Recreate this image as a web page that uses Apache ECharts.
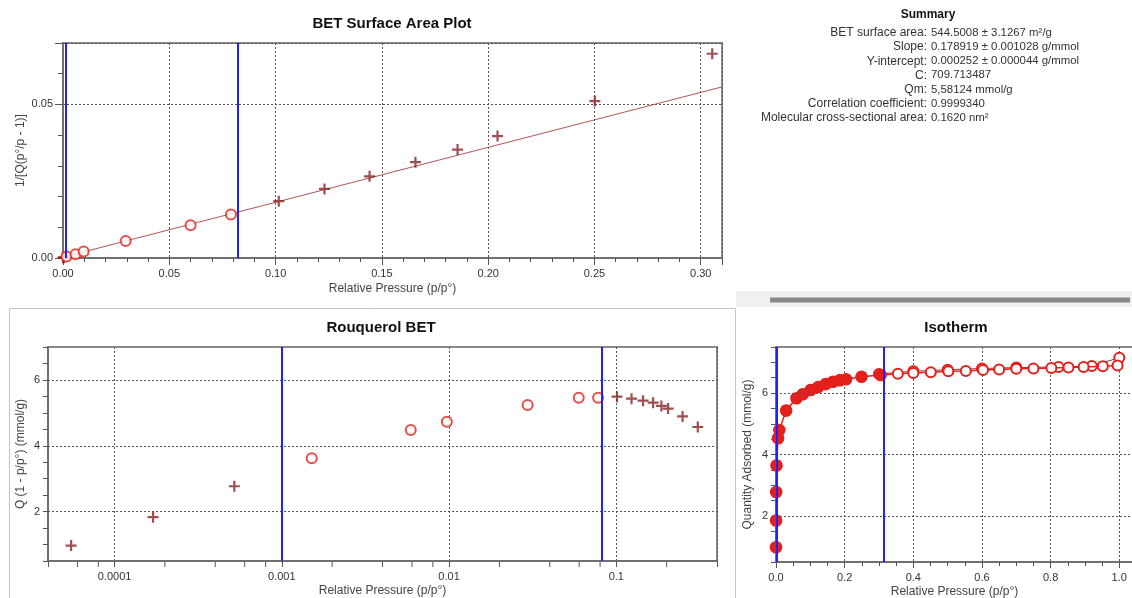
<!DOCTYPE html>
<html><head><meta charset="utf-8">
<script src="https://cdn.jsdelivr.net/npm/echarts@6/dist/echarts.min.js"></script>
<style>html,body{margin:0;padding:0;background:#fff}#c{width:1132px;height:598px}</style>
</head><body><div id="c"></div>
<script>
// ---------- BET surface area plot (1/[Q(p°/p-1)] vs p/p°) ----------
const betCircleX = [0.0016, 0.0059, 0.0097, 0.0295, 0.0600, 0.0790];
const betCircleY = [0.0005, 0.0012, 0.0021, 0.0055, 0.0107, 0.0142];
const betCrossX = [0.00006, 0.00017, 0.00052, 0.1015, 0.1230, 0.1442, 0.1658, 0.1856, 0.2044, 0.2502, 0.3054];
const betCrossY = [0.00006, 0.0001, 0.0002, 0.0185, 0.0225, 0.0266, 0.0312, 0.0353, 0.0397, 0.0511, 0.0665];
const betFitX = [0, 0.31];
const betFitY = [0.00025, 0.0557];
const betLimits = [0.0012, 0.0821];

// ---------- Rouquerol BET ----------
const rqCircleX = [0.00151, 0.0059, 0.0097, 0.0295, 0.0596, 0.0778];
const rqCircleY = [3.62, 4.48, 4.73, 5.24, 5.455, 5.46];
const rqCrossX = [0.000055, 0.00017, 0.00052, 0.101, 0.1233, 0.1445, 0.166, 0.186, 0.204, 0.249, 0.307];
const rqCrossY = [0.97, 1.83, 2.77, 5.49, 5.43, 5.37, 5.31, 5.21, 5.13, 4.89, 4.57];
const rqLimits = [0.0010001, 0.0818];
const rqMinorTicks = [0.00006, 0.00008, 0.0002, 0.0004, 0.0006, 0.0008, 0.002, 0.004, 0.006, 0.008, 0.02, 0.04, 0.06, 0.08, 0.2];
const rqGridY = [2, 4, 6];

// ---------- Isotherm ----------
const isoAdsP = [0.00006, 0.00017, 0.00052, 0.0015, 0.0059, 0.0097, 0.0295, 0.0596, 0.078, 0.101, 0.123, 0.1445, 0.166, 0.186, 0.204, 0.249, 0.305];
const isoAdsQ = [0.98, 1.85, 2.78, 3.64, 4.53, 4.80, 5.43, 5.83, 5.96, 6.10, 6.20, 6.29, 6.37, 6.42, 6.45, 6.53, 6.59];
const isoAdsHiP = [0.355, 0.40, 0.451, 0.502, 0.553, 0.603, 0.650, 0.700, 0.750, 0.802, 0.852, 0.896, 0.952, 0.995];
const isoAdsHiQ = [6.63, 6.65, 6.68, 6.71, 6.72, 6.75, 6.77, 6.79, 6.80, 6.82, 6.83, 6.85, 6.87, 6.90];
const isoDesP = [1.0, 0.920, 0.823, 0.70, 0.60, 0.50, 0.40, 0.30];
const isoDesQ = [7.15, 6.88, 6.85, 6.83, 6.80, 6.76, 6.71, 6.62];
const isoLimits = [0.0008, 0.315];
const isoGridY = [2, 4, 6];

// ---------- Summary ----------
const summaryLabels = ['BET surface area:', 'Slope:', 'Y-intercept:', 'C:', 'Qm:', 'Correlation coefficient:', 'Molecular cross-sectional area:'];
const summaryValues = ['544.5008 ± 3.1267 m²/g', '0.178919 ± 0.001028 g/mmol', '0.000252 ± 0.000044 g/mmol', '709.713487', '5,58124 mmol/g', '0.9999340', '0.1620 nm²'];

const FONT = '"Liberation Sans", Arial, sans-serif';
const zip = (a, b) => a.map((v, i) => [v, b[i]]);
const fmtStep = (step, dec) => v => Math.abs(v / step - Math.round(v / step)) < 1e-6 ? v.toFixed(dec) : '';
const fmtEven = v => (Math.abs(v - Math.round(v)) < 1e-6 && Math.round(v) % 2 === 0) ? String(Math.round(v)) : '';
const fmtLog = v => { const e = Math.log10(v); const r = Math.round(e); return Math.abs(e - r) < 1e-6 ? Math.pow(10, r).toFixed(-r) : ''; };

const CROSS = 'path://M4,0H6V4H10V6H6V10H4V6H0V4H4Z';
const RED = '#e3201b', DARK = '#862424', BLUE = '#1f1fff';
const axisLine = { show: true, onZero: false, lineStyle: { color: '#707070', width: 2 } };
const tickStyle = { color: '#555', width: 1 };
const labelStyle = { color: '#333', fontSize: 11, fontFamily: FONT };
const nameStyle = { color: '#444', fontSize: 12, fontFamily: FONT };
const dash = { color: '#555', width: 1, type: [2, 2] };
const gridBase = { show: true, borderColor: '#8a8a8a', borderWidth: 2, backgroundColor: '#fff', containLabel: false, outerBoundsMode: 'none' };
const blueLine = v => ({ xAxis: v, lineStyle: { color: BLUE, width: 2, type: 'solid' } });
const dashLine = v => ({ yAxis: v, lineStyle: dash });
const mlBase = { silent: true, symbol: ['none', 'none'], label: { show: false }, animation: false, precision: 8 };
const nm = (name, gap) => ({ name, nameLocation: 'middle', nameGap: gap, nameMoveOverlap: false, nameTextStyle: nameStyle });

const option = {
  animation: false,
  backgroundColor: '#fff',
  grid: [
    Object.assign({ left: 63, top: 43, width: 659, height: 215 }, gridBase),
    Object.assign({ left: 48, top: 347, width: 669, height: 214 }, gridBase),
    Object.assign({ left: 776, top: 347, width: 357, height: 215 }, gridBase)
  ],
  xAxis: [
    Object.assign({ gridIndex: 0, type: 'value', min: 0, max: 0.31, interval: 0.05, axisLine,
      axisTick: { show: true, length: 7, lineStyle: tickStyle },
      minorTick: { show: true, splitNumber: 5, length: 4, lineStyle: tickStyle },
      axisLabel: Object.assign({ margin: 10, formatter: fmtStep(0.05, 2) }, labelStyle),
      splitLine: { show: true, lineStyle: dash } }, nm('Relative Pressure (p/p°)', 25)),
    Object.assign({ gridIndex: 1, type: 'log', logBase: 10, min: 0.00004, max: 0.4, axisLine,
      axisTick: { show: true, length: 6, lineStyle: tickStyle },
      axisLabel: Object.assign({ margin: 10, formatter: fmtLog }, labelStyle),
      splitLine: { show: true, lineStyle: dash } }, nm('Relative Pressure (p/p°)', 24)),
    Object.assign({ gridIndex: 2, type: 'value', min: 0, max: 1.04, interval: 0.2, axisLine,
      axisTick: { show: true, length: 6, lineStyle: tickStyle },
      minorTick: { show: true, splitNumber: 4, length: 4, lineStyle: tickStyle },
      axisLabel: Object.assign({ margin: 10, formatter: fmtStep(0.2, 1) }, labelStyle),
      splitLine: { show: true, lineStyle: dash } }, nm('Relative Pressure (p/p°)', 24))
  ],
  yAxis: [
    Object.assign({ gridIndex: 0, type: 'value', min: 0, max: 0.07, interval: 0.05, axisLine,
      axisTick: { show: true, length: 8, lineStyle: tickStyle },
      minorTick: { show: true, splitNumber: 5, length: 5, lineStyle: tickStyle },
      axisLabel: Object.assign({ margin: 10, formatter: fmtStep(0.05, 2) }, labelStyle),
      splitLine: { show: true, lineStyle: dash } }, nm('1/[Q(p°/p - 1)]', 36)),
    Object.assign({ gridIndex: 1, type: 'value', min: 0.5, max: 7, interval: 0.5, axisLine,
      axisTick: { show: true, length: 5, lineStyle: tickStyle },
      axisLabel: Object.assign({ margin: 8, formatter: fmtEven }, labelStyle),
      splitLine: { show: false } }, nm('Q (1 - p/p°) (mmol/g)', 21)),
    Object.assign({ gridIndex: 2, type: 'value', min: 0.5, max: 7.5, interval: 0.5, axisLine,
      axisTick: { show: true, length: 5, lineStyle: tickStyle },
      axisLabel: Object.assign({ margin: 8, formatter: fmtEven }, labelStyle),
      splitLine: { show: false } }, nm('Quantity Adsorbed (mmol/g)', 22))
  ],
  series: [
    // BET plot
    { type: 'line', xAxisIndex: 0, yAxisIndex: 0, data: zip(betFitX, betFitY), showSymbol: false, silent: true,
      lineStyle: { color: '#b05555', width: 1 }, z: 2,
      markLine: Object.assign({ data: betLimits.map(blueLine) }, mlBase) },
    { type: 'scatter', xAxisIndex: 0, yAxisIndex: 0, data: zip(betCrossX, betCrossY), symbol: CROSS, symbolSize: 11,
      itemStyle: { color: DARK }, z: 3 },
    { type: 'scatter', xAxisIndex: 0, yAxisIndex: 0, data: zip(betCircleX, betCircleY), symbol: 'emptyCircle', symbolSize: 10,
      itemStyle: { color: RED, borderColor: RED, borderWidth: 1.6 }, z: 4 },
    // Rouquerol
    { type: 'scatter', xAxisIndex: 1, yAxisIndex: 1, data: zip(rqCrossX, rqCrossY), symbol: CROSS, symbolSize: 11,
      itemStyle: { color: DARK }, z: 3,
      markLine: Object.assign({ data: rqGridY.map(dashLine) }, mlBase) },
    { type: 'scatter', xAxisIndex: 1, yAxisIndex: 1, data: zip(rqCircleX, rqCircleY), symbol: 'emptyCircle', symbolSize: 10,
      itemStyle: { color: RED, borderColor: RED, borderWidth: 1.6 }, z: 4,
      markLine: Object.assign({ data: rqLimits.map(blueLine) }, mlBase) },
    { type: 'custom', xAxisIndex: 1, yAxisIndex: 1, silent: true, clip: false,
      data: rqMinorTicks.map(v => [v, 0.5]), encode: { x: 0, y: 1 },
      renderItem: (params, api) => {
        const p = api.coord([api.value(0), api.value(1)]);
        return { type: 'line', shape: { x1: p[0], y1: p[1] + 1, x2: p[0], y2: p[1] + 6 }, style: { stroke: '#555', lineWidth: 1 } };
      } },
    // Isotherm
    { type: 'line', xAxisIndex: 2, yAxisIndex: 2, data: zip(isoDesP, isoDesQ), symbol: 'emptyCircle', symbolSize: 10,
      lineStyle: { color: '#8b3535', width: 1 }, itemStyle: { color: RED, borderColor: RED, borderWidth: 1.6 }, z: 3,
      markLine: Object.assign({ data: isoGridY.map(dashLine).concat(isoLimits.map(blueLine)) }, mlBase) },
    { type: 'line', xAxisIndex: 2, yAxisIndex: 2,
      data: zip(isoAdsP, isoAdsQ).map(v => ({ value: v, symbol: 'circle', symbolSize: 11 }))
        .concat(zip(isoAdsHiP, isoAdsHiQ).map(v => ({ value: v, symbol: 'emptyCircle', symbolSize: 10 }))),
      showAllSymbol: true,
      lineStyle: { color: RED, width: 1.5 }, itemStyle: { color: RED, borderColor: RED, borderWidth: 1.6 }, z: 4 }
  ],
  graphic: [
    { type: 'rect', shape: { x: 9.5, y: 308.5, width: 726, height: 300 }, style: { fill: 'none', stroke: '#c4c4c4', lineWidth: 1 }, z: -1 },
    { type: 'rect', shape: { x: 736, y: 291, width: 396, height: 16 }, style: { fill: '#f0f0f0' }, z: -1 },
    { type: 'rect', shape: { x: 770, y: 297.5, width: 360, height: 5 }, style: { fill: '#888' }, z: 1 },
    { type: 'text', x: 392, y: 24, style: { text: 'BET Surface Area Plot', font: 'bold 15px ' + FONT, fill: '#111', align: 'center', verticalAlign: 'middle' } },
    { type: 'text', x: 381, y: 328, style: { text: 'Rouquerol BET', font: 'bold 15px ' + FONT, fill: '#111', align: 'center', verticalAlign: 'middle' } },
    { type: 'text', x: 956, y: 328, style: { text: 'Isotherm', font: 'bold 15px ' + FONT, fill: '#111', align: 'center', verticalAlign: 'middle' } },
    { type: 'text', x: 928, y: 15, style: { text: 'Summary', font: 'bold 12px ' + FONT, fill: '#111', align: 'center', verticalAlign: 'middle' } }
  ].concat(summaryLabels.map((t, i) => ({ type: 'text', x: 927, y: 33 + i * 14.1,
      style: { text: t, font: '12px ' + FONT, fill: '#333', align: 'right', verticalAlign: 'middle' } })))
   .concat(summaryValues.map((t, i) => ({ type: 'text', x: 931, y: 33 + i * 14.1,
      style: { text: t, font: '11.4px ' + FONT, fill: '#333', align: 'left', verticalAlign: 'middle' } })))
};

const chart = echarts.init(document.getElementById('c'), null, { renderer: 'canvas' });
chart.setOption(option);
</script>
</body></html>
